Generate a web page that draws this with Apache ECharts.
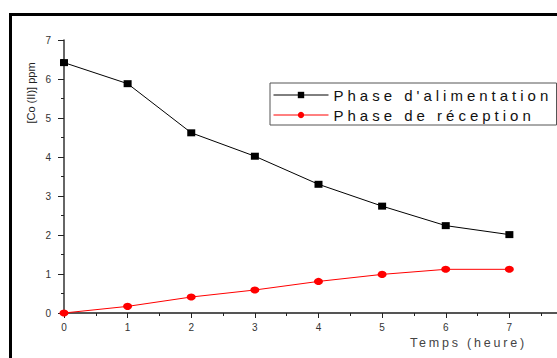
<!DOCTYPE html>
<html>
<head>
<meta charset="utf-8">
<script src="https://cdn.jsdelivr.net/npm/echarts@6/dist/echarts.min.js"></script>
<style>
  html, body { margin: 0; padding: 0; background: #fff; overflow: hidden; }
  #chart { width: 557px; height: 358px; }
</style>
</head>
<body>
<div id="chart"></div>
<script>
// Cobalt(II) concentration over time in both phases
const hours = [0, 1, 2, 3, 4, 5, 6, 7];
const alimentation = [6.42, 5.88, 4.62, 4.02, 3.30, 2.74, 2.24, 2.01];
const reception = [0.00, 0.17, 0.41, 0.59, 0.81, 0.99, 1.12, 1.12];
const seriesNames = ["Phase d'alimentation", 'Phase de réception'];
const xTitle = 'Temps (heure)';
const yTitle = '[Co (II)] ppm';

const FONT = 'Arial, "Liberation Sans", sans-serif';
const axisGrey = '#555';

const chart = echarts.init(document.getElementById('chart'), null, { renderer: 'svg' });

chart.setOption({
  animation: false,
  backgroundColor: '#fff',
  grid: {
    left: 64, top: 40, width: 509, height: 273,
    containLabel: false, outerBoundsMode: 'none'
  },
  xAxis: {
    type: 'value', min: 0, max: 8, interval: 1,
    axisLine: { show: true, onZero: false, lineStyle: { color: axisGrey, width: 2 } },
    axisTick: { show: true, inside: false, length: 5, lineStyle: { color: '#222', width: 1 } },
    minorTick: { show: true, splitNumber: 2, length: 3, lineStyle: { color: '#222', width: 1 } },
    splitLine: { show: false },
    axisLabel: {
      margin: 9, color: '#333', fontSize: 10, fontFamily: FONT,
      formatter: v => (v <= 7 ? String(v) : '')
    }
  },
  yAxis: {
    type: 'value', min: 0, max: 7, interval: 1,
    axisLine: { show: true, lineStyle: { color: '#333', width: 1.5 } },
    axisTick: { show: true, inside: false, length: 6, lineStyle: { color: '#222', width: 1 } },
    minorTick: { show: true, splitNumber: 2, length: 3, lineStyle: { color: '#222', width: 1 } },
    splitLine: { show: false },
    axisLabel: { margin: 13, color: '#333', fontSize: 10, fontFamily: FONT }
  },
  legend: {
    orient: 'vertical',
    left: 270, top: 83,
    padding: [4, 8, 2, 3],
    itemGap: 4,
    itemWidth: 55,
    itemHeight: 8,
    borderColor: axisGrey,
    borderWidth: 1,
    backgroundColor: '#fff',
    lineStyle: { width: 1 },
    textStyle: { fontSize: 15, fontFamily: FONT, color: '#111', width: 215, lineHeight: 16, overflow: 'none' },
    data: seriesNames
  },
  series: [
    {
      name: seriesNames[0], type: 'line',
      data: hours.map((h, i) => [h, alimentation[i]]),
      symbol: 'rect', symbolSize: [8, 7],
      lineStyle: { color: '#000', width: 1 },
      itemStyle: { color: '#000' },
      clip: false
    },
    {
      name: seriesNames[1], type: 'line',
      data: hours.map((h, i) => [h, reception[i]]),
      symbol: 'circle', symbolSize: [9, 7],
      lineStyle: { color: '#ff0000', width: 1 },
      itemStyle: { color: '#ff0000' },
      clip: false
    }
  ],
  graphic: [
    {
      // outer frame: only its left and top edges fall inside the canvas
      type: 'polyline', silent: true, z: 100,
      shape: { points: [[10.5, 400], [10.5, 14.5], [700, 14.5]] },
      style: { fill: null, stroke: '#000', lineWidth: 3 }
    },
    {
      type: 'text', silent: true,
      x: 31, y: 93, rotation: Math.PI / 2,
      style: {
        text: yTitle, fill: '#222', font: '11px ' + FONT,
        align: 'center', verticalAlign: 'middle'
      }
    },
    {
      type: 'text', silent: true,
      x: 410, y: 343,
      style: {
        text: xTitle, fill: '#444', font: '12.5px ' + FONT,
        align: 'left', verticalAlign: 'middle'
      }
    }
  ]
});

// Widen the tracking of the legend entries and the time caption
function track(str, px) {
  document.querySelectorAll('#chart text').forEach(t => {
    if (t.textContent === str) t.setAttribute('letter-spacing', px);
  });
}
track(seriesNames[0], '4px');
track(seriesNames[1], '4px');
track(xTitle, '2.8px');
</script>
</body>
</html>
